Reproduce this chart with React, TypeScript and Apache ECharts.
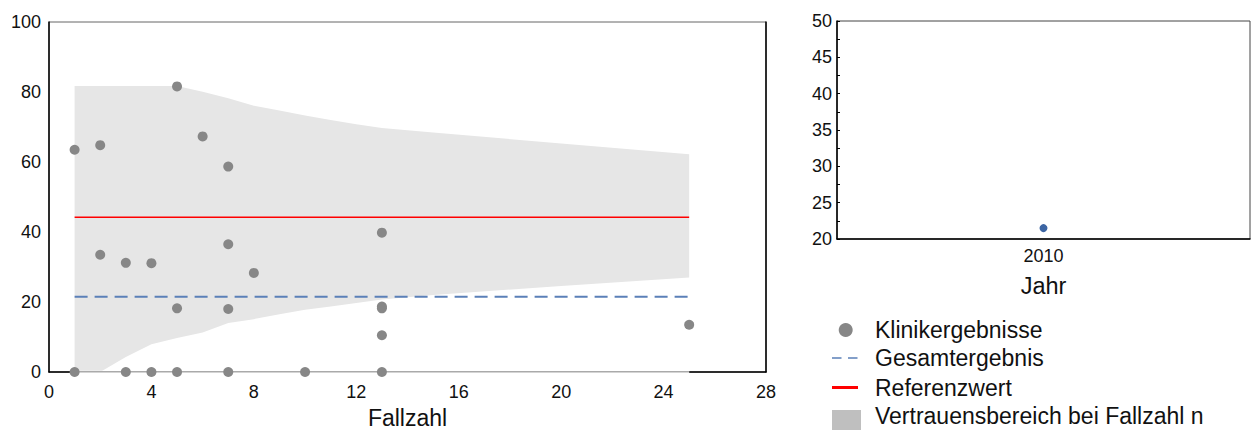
import React, { useEffect, useRef } from "react";
import * as echarts from "echarts";

// Klinikergebnisse (Fallzahl, Ergebnis in %)
const fallzahl = [1, 1, 2, 2, 3, 3, 4, 4, 5, 5, 5, 6, 7, 7, 7, 7, 8, 10, 13, 13, 13, 13, 13, 25];
const klinikWerte = [63.5, 0, 64.8, 33.5, 31.2, 0, 31.1, 0, 81.6, 18.2, 0, 67.3, 58.7, 36.5, 18.0, 0, 28.3, 0, 39.8, 18.7, 18.2, 10.5, 0, 13.5];

// Vertrauensbereich bei Fallzahl n
const bandFallzahl = [1, 2, 3, 4, 5, 6, 7, 8, 9, 10, 11, 12, 13, 15, 20, 25];
const bandUnten = [0, 0, 4.3, 7.9, 9.7, 11.3, 14.0, 15.1, 16.5, 17.8, 18.7, 19.7, 20.7, 22.0, 24.6, 27.0];
const bandOben = [81.7, 81.7, 81.7, 81.7, 81.7, 80.1, 78.2, 76.1, 74.7, 73.3, 72.0, 70.8, 69.7, 68.4, 65.3, 62.2];

const gesamtergebnis = 21.5;
const referenzwert = 44.2;

// Zeitverlauf
const jahre = ["2010"];
const jahresWerte = [21.5];

const legendLabels = ["Klinikergebnisse", "Gesamtergebnis", "Referenzwert", "Vertrauensbereich bei Fallzahl n"];

const FONT = "'Liberation Sans', Arial, Helvetica, sans-serif";
const GRAU = "#878787";
const BLAU = "#5b80b8";
const ROT = "#ff0000";

export default function App() {
  const ref = useRef<HTMLDivElement>(null);

  useEffect(() => {
    document.body.style.margin = "0";
    if (!ref.current) return;
    const chart = echarts.init(ref.current, undefined, { renderer: "svg" });
    const xMin = bandFallzahl[0];
    const xMax = bandFallzahl[bandFallzahl.length - 1];

    const legendRows = [330, 358, 387.5, 415.5];
    const legendTextX = 875;

    const option: any = {
      animation: false,
      textStyle: { fontFamily: FONT },
      grid: [
        { left: 49, top: 22, width: 717, height: 350, show: true, borderColor: "#666", borderWidth: 1, backgroundColor: "transparent", containLabel: false, outerBoundsMode: "none" },
        { left: 837, top: 21, width: 413, height: 218, show: true, borderColor: "#444", borderWidth: 1, backgroundColor: "transparent", containLabel: false, outerBoundsMode: "none" },
      ],
      xAxis: [
        {
          gridIndex: 0, type: "value", min: 0, max: 28, interval: 4,
          axisLine: { show: true, lineStyle: { color: "#000", width: 1.5 } },
          axisTick: { show: false }, splitLine: { show: false },
          axisLabel: { fontSize: 18, color: "#111", margin: 11, fontFamily: FONT },
          name: "Fallzahl", nameLocation: "middle", nameGap: 34,
          nameTextStyle: { fontSize: 23, color: "#111", fontFamily: FONT },
        },
        {
          gridIndex: 1, type: "category", data: jahre, boundaryGap: true,
          axisLine: { show: true, lineStyle: { color: "#000", width: 1.5 } },
          axisTick: { show: false }, splitLine: { show: false },
          axisLabel: { fontSize: 18, color: "#111", margin: 8, fontFamily: FONT },
          name: "Jahr", nameLocation: "middle", nameGap: 35,
          nameTextStyle: { fontSize: 23.5, color: "#111", fontFamily: FONT },
        },
      ],
      yAxis: [
        {
          gridIndex: 0, type: "value", min: 0, max: 100, interval: 20,
          axisLine: { show: true, lineStyle: { color: "#000", width: 1.5 } },
          axisTick: { show: false }, splitLine: { show: false },
          axisLabel: { fontSize: 18, color: "#111", margin: 8, fontFamily: FONT },
        },
        {
          gridIndex: 0, type: "value", min: 0, max: 100, position: "right",
          axisLine: { show: true, lineStyle: { color: "#000", width: 1.5 } },
          axisTick: { show: false }, splitLine: { show: false }, axisLabel: { show: false },
        },
        {
          gridIndex: 1, type: "value", min: 20, max: 50, interval: 5,
          axisLine: { show: true, lineStyle: { color: "#000", width: 1.5 } },
          axisTick: { show: true, inside: true, length: 3, lineStyle: { color: "#000", width: 1 } },
          minorTick: { show: true, splitNumber: 2, length: 3, lineStyle: { color: "#000", width: 1 } },
          splitLine: { show: false }, minorSplitLine: { show: false },
          axisLabel: { fontSize: 18, color: "#111", margin: 5, fontFamily: FONT },
        },
      ],
      series: [
        {
          name: legendLabels[3], type: "custom", xAxisIndex: 0, yAxisIndex: 0,
          data: bandFallzahl.map((x, i) => [x, bandUnten[i], bandOben[i]]),
          encode: { x: 0, y: [1, 2] },
          silent: true, z: 2,
          renderItem: (params: any, api: any) => {
            if (params.dataIndex !== 0) return null;
            const pts: number[][] = [];
            for (let i = 0; i < bandFallzahl.length; i++) pts.push(api.coord([bandFallzahl[i], bandOben[i]]));
            for (let i = bandFallzahl.length - 1; i >= 0; i--) pts.push(api.coord([bandFallzahl[i], bandUnten[i]]));
            return { type: "polygon", shape: { points: pts }, style: { fill: "#e6e6e6", stroke: "none" } };
          },
        },
        {
          name: "achseMaske", type: "line", xAxisIndex: 0, yAxisIndex: 0,
          data: [[xMin, 0], [xMax, 0]], symbol: "none",
          lineStyle: { color: "#fff", width: 2.5 }, silent: true, z: 3,
        },
        {
          name: "achse", type: "line", xAxisIndex: 0, yAxisIndex: 0,
          data: [[xMin, 0], [xMax, 0]], symbol: "none",
          lineStyle: { color: "#555", width: 1 }, silent: true, z: 3,
        },
        {
          name: legendLabels[1], type: "line", xAxisIndex: 0, yAxisIndex: 0,
          data: [[xMin, gesamtergebnis], [xMax, gesamtergebnis]], symbol: "none",
          lineStyle: { color: BLAU, width: 2, type: [13, 7] }, silent: true, z: 4,
        },
        {
          name: legendLabels[2], type: "line", xAxisIndex: 0, yAxisIndex: 0,
          data: [[xMin, referenzwert], [xMax, referenzwert]], symbol: "none",
          lineStyle: { color: ROT, width: 1.5 }, silent: true, z: 4,
        },
        {
          name: legendLabels[0], type: "scatter", xAxisIndex: 0, yAxisIndex: 0,
          data: fallzahl.map((x, i) => [x, klinikWerte[i]]),
          symbol: "circle", symbolSize: 10, itemStyle: { color: GRAU, opacity: 1 }, z: 5,
        },
        {
          name: "Zeitverlauf", type: "scatter", xAxisIndex: 1, yAxisIndex: 2,
          data: jahresWerte, symbol: "circle", symbolSize: 8,
          itemStyle: { color: "#3c65a3", opacity: 1 }, z: 5,
        },
      ],
      graphic: [
        { type: "circle", shape: { cx: 845.7, cy: legendRows[0], r: 7 }, style: { fill: GRAU } },
        { type: "line", shape: { x1: 832, y1: legendRows[1], x2: 858, y2: legendRows[1] }, style: { stroke: BLAU, lineWidth: 1.3, lineDash: [9.5, 6.5] } },
        { type: "line", shape: { x1: 832, y1: legendRows[2], x2: 858, y2: legendRows[2] }, style: { stroke: ROT, lineWidth: 3 } },
        { type: "rect", shape: { x: 832, y: 410, width: 29, height: 20 }, style: { fill: "#bfbfbf" } },
        ...legendLabels.map((t, i) => ({
          type: "text",
          x: legendTextX,
          y: legendRows[i],
          style: { text: t, fill: "#111", font: `23px ${FONT}`, verticalAlign: "middle", align: "left" },
        })),
      ],
    };

    chart.setOption(option);
    return () => chart.dispose();
  }, []);

  return <div ref={ref} style={{ width: 1256, height: 430 }} />;
}
